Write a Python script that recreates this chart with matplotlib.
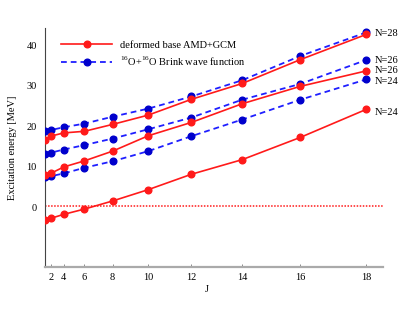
import numpy as np
import matplotlib
matplotlib.use("Agg")
import matplotlib.pyplot as plt

plt.rcParams['font.family'] = ['Liberation Serif', 'DejaVu Serif']
plt.rcParams['mathtext.fontset'] = 'custom'
plt.rcParams['mathtext.rm'] = 'Liberation Serif'

J = np.array([0, 2, 4, 6, 8, 10, 12, 14, 16, 18])

amd_n24 = [-3.1, -2.7, -1.7, -0.4, 1.6, 4.4, 8.2, 11.8, 17.3, 24.2]
amd_n26 = [8.0, 8.4, 10.0, 11.5, 13.9, 17.7, 21.0, 25.6, 29.9, 33.7]
amd_n28 = [16.6, 17.6, 18.4, 18.8, 20.5, 22.8, 26.7, 30.6, 36.5, 42.7]
brink_n24 = [7.4, 7.7, 8.4, 9.8, 11.4, 13.9, 17.6, 21.7, 26.6, 31.6]
brink_n26 = [13.2, 13.5, 14.3, 15.4, 17.0, 19.3, 22.2, 26.6, 30.5, 36.4]
brink_n28 = [18.8, 19.1, 19.8, 20.7, 22.4, 24.4, 27.4, 31.4, 37.4, 43.2]

threshold = 0.4
xticks = [2, 4, 6, 8, 10, 12, 14, 16, 18]
yticks = [0, 10, 20, 30, 40]

legend_labels = ['deformed base AMD+GCM', r'$^{16}$O+$^{16}$O Brink wave function']
red = '#ff1a1a'
blue_line = '#1f1fff'
blue_marker = '#0000cc'

fig = plt.figure(figsize=(4.15, 3.12), dpi=100)
ax = fig.add_axes([45/415, 1-267/312, 338/415, 239/312])

fwd = lambda j: j * (j + 1)
inv = lambda x: (-1 + np.sqrt(1 + 4 * np.maximum(x, -0.25))) / 2
ax.set_xscale('function', functions=(fwd, inv))

fs = 7.5
dash = (3.2, 2.2)
bl = None
for s in [brink_n28, brink_n26, brink_n24]:
    bl, = ax.plot(J, s, color=blue_line, lw=1.3, dashes=dash, marker='o', ms=4.8,
                  mfc=blue_marker, mec=blue_marker, zorder=3)
rl = None
for s in [amd_n28, amd_n26, amd_n24]:
    rl, = ax.plot(J, s, color=red, lw=1.2, marker='o', ms=4.8, mfc=red, mec=red, zorder=4)

ax.axhline(threshold, color=red, lw=1.1, linestyle=(0, (1, 1)), zorder=2)

ax.set_xlim(0, 18.48)
ax.set_ylim(-14.7, 44.3)
ax.set_xticks(xticks)
ax.set_xticklabels([str(t) for t in xticks], fontsize=fs)
ax.set_yticks(yticks)
ax.set_yticklabels([str(t) for t in yticks], fontsize=fs)
ax.minorticks_off()
ax.tick_params(axis='x', direction='in', length=2.5, width=0.6, color='#777777', pad=4)
ax.tick_params(axis='y', length=0, pad=6)

for sp in ['top', 'right']:
    ax.spines[sp].set_visible(False)
ax.spines['left'].set_color('#444444')
ax.spines['left'].set_linewidth(0.8)
ax.spines['bottom'].set_color('#aaaaaa')
ax.spines['bottom'].set_linewidth(1.6)

ax.set_xlabel('J', fontsize=fs)
ax.xaxis.set_label_coords(0.48, -0.075)
ax.set_ylabel('Excitation energy [MeV]', fontsize=fs)
ax.yaxis.set_label_coords(-0.083, 0.5)

labels = [('N=28', brink_n28[-1], -1), ('N=26', brink_n26[-1], 0), ('N=26', amd_n26[-1], 0),
          ('N=24', brink_n24[-1], -2), ('N=24', amd_n24[-1], -3)]
for txt, yv, dy in labels:
    ax.annotate(txt, xy=(18, yv), xytext=(8.5, dy), textcoords='offset pixels',
                ha='left', va='center', fontsize=fs, annotation_clip=False)

ax.legend([rl, bl], legend_labels, loc='upper left', bbox_to_anchor=(0.048, 0.947),
          frameon=False, fontsize=fs, handlelength=4.9, handletextpad=0.7,
          labelspacing=0.45, borderpad=0, borderaxespad=0)

fig.savefig('out.png', dpi=100, facecolor='white')
